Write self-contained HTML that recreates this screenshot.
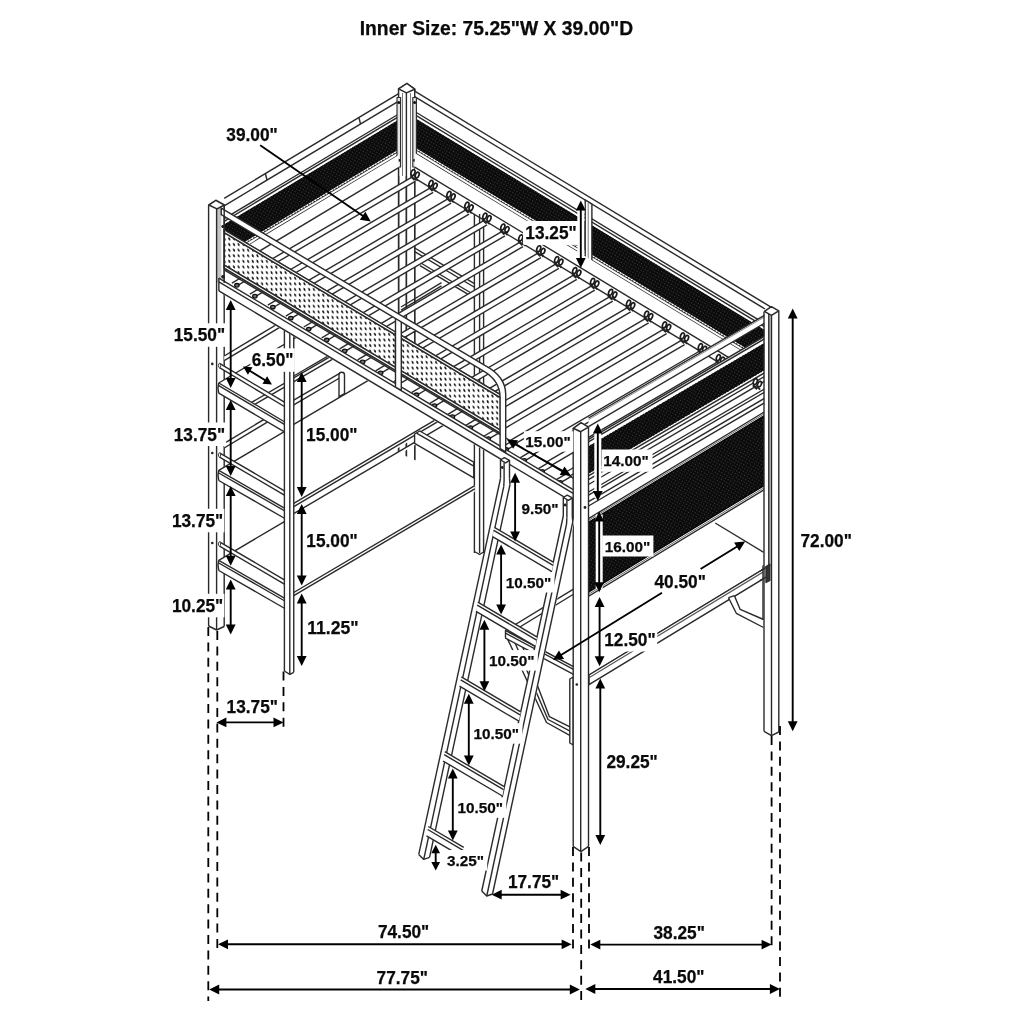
<!DOCTYPE html>
<html lang="en"><head><meta charset="utf-8"><title>Loft bed dimensions</title>
<style>
html,body{margin:0;padding:0;background:#fff;}
body{width:1024px;height:1024px;overflow:hidden;}
svg{display:block;}
svg text{font-family:"Liberation Sans",Arial,Helvetica,sans-serif;font-weight:700;fill:#0a0a0a;stroke:#0a0a0a;stroke-width:0.25px;}
svg{will-change:transform;}
</style></head><body>
<svg width="1024" height="1024" viewBox="0 0 1024 1024">
<defs>
<pattern id="mesh" width="3" height="3" patternUnits="userSpaceOnUse" patternTransform="rotate(30)">
<rect width="3" height="3" fill="#0c0c0c"/><rect width="1" height="1" fill="#3c3c3c"/>
</pattern>
<pattern id="perf" width="9.4" height="5.6" patternUnits="userSpaceOnUse" patternTransform="matrix(1 0.597 0 1 223 231)">
<rect width="9.4" height="5.6" fill="#fff"/>
<ellipse cx="1.6" cy="1.4" rx="1.05" ry="1.3" fill="#111" transform="rotate(-20 1.6 1.4)"/><ellipse cx="6.3" cy="4.2" rx="1.05" ry="1.3" fill="#111" transform="rotate(-20 6.3 4.2)"/>
</pattern>
</defs>
<rect width="1024" height="1024" fill="#fff"/>
<polygon points="398.6,88.9 406.4,92.9 414.7,89.2 414.7,509.3 406.4,513.5 398.6,509" fill="#fff" stroke="none" stroke-width="0" stroke-linejoin="round"/>
<polygon points="398.6,88.9 406.4,92.9 414.7,89.2 406.9,84.2" fill="#fff" stroke="#2a2a2a" stroke-width="1.54" stroke-linejoin="round"/>
<line x1="398.6" y1="88.9" x2="398.6" y2="509" stroke="#2a2a2a" stroke-width="1.4"/>
<line x1="406.4" y1="92.9" x2="406.4" y2="513.5" stroke="#2a2a2a" stroke-width="1.4"/>
<line x1="414.7" y1="89.2" x2="414.7" y2="509.3" stroke="#2a2a2a" stroke-width="1.4"/>
<polyline points="398.6,509 406.4,513.5 414.7,509.3" fill="none" stroke="#2a2a2a" stroke-width="1.4" stroke-linejoin="round"/>
<polygon points="414.7,91.2 771.4,307.36 771.4,369.36 414.7,153.2" fill="#fff" stroke="none" stroke-width="0" stroke-linejoin="round"/>
<polygon points="414.7,117.8 765,330.08 765,359.78 414.7,147.5" fill="url(#mesh)" stroke="none" stroke-width="0" stroke-linejoin="round"/>
<line x1="414.7" y1="91.2" x2="771.4" y2="307.36" stroke="#2a2a2a" stroke-width="1.4"/>
<line x1="414.7" y1="96.7" x2="765" y2="308.98" stroke="#2a2a2a" stroke-width="1.4"/>
<line x1="414.7" y1="111.5" x2="765" y2="323.78" stroke="#2a2a2a" stroke-width="1.4"/>
<line x1="414.7" y1="114.7" x2="765" y2="326.98" stroke="#2a2a2a" stroke-width="1.4"/>
<line x1="414.7" y1="149" x2="765" y2="361.28" stroke="#2a2a2a" stroke-width="1.4"/>
<line x1="414.7" y1="152.95" x2="765" y2="365.23" stroke="#2a2a2a" stroke-width="1.4"/>
<line x1="414.7" y1="116.8" x2="765" y2="329.08" stroke="#fff" stroke-dasharray="1.6 1.6" stroke-width="1.2"/>
<line x1="414.7" y1="148.2" x2="765" y2="360.48" stroke="#fff" stroke-dasharray="1.6 1.6" stroke-width="1.2"/>
<polygon points="224.2,198.28 398.7,93.58 398.7,155.58 224.2,260.28" fill="#fff" stroke="none" stroke-width="0" stroke-linejoin="round"/>
<polygon points="224.2,224.28 398.7,119.58 398.7,149.58 224.2,254.28" fill="url(#mesh)" stroke="none" stroke-width="0" stroke-linejoin="round"/>
<line x1="224.2" y1="198.28" x2="398.7" y2="93.58" stroke="#2a2a2a" stroke-width="1.4"/>
<line x1="224.2" y1="205.78" x2="398.7" y2="101.08" stroke="#2a2a2a" stroke-width="1.4"/>
<line x1="224.2" y1="218.68" x2="398.7" y2="113.98" stroke="#2a2a2a" stroke-width="1.4"/>
<line x1="224.2" y1="221.28" x2="398.7" y2="116.58" stroke="#2a2a2a" stroke-width="1.4"/>
<line x1="224.2" y1="255.78" x2="398.7" y2="151.08" stroke="#2a2a2a" stroke-width="1.4"/>
<line x1="224.2" y1="259.78" x2="398.7" y2="155.08" stroke="#2a2a2a" stroke-width="1.4"/>
<line x1="224.2" y1="223.48" x2="398.7" y2="118.78" stroke="#fff" stroke-dasharray="1.6 1.6" stroke-width="1.2"/>
<line x1="224.2" y1="255.08" x2="398.7" y2="150.38" stroke="#fff" stroke-dasharray="1.6 1.6" stroke-width="1.2"/>
<line x1="265.5" y1="174" x2="267" y2="180" stroke="#2a2a2a" stroke-width="1.4"/>
<line x1="359" y1="117.9" x2="360.5" y2="123.9" stroke="#2a2a2a" stroke-width="1.4"/>
<polygon points="398.6,88.9 406.4,92.9 414.7,89.2 414.7,176 398.6,176" fill="#fff" stroke="none" stroke-width="0" stroke-linejoin="round"/>
<line x1="398.6" y1="88.9" x2="398.6" y2="509" stroke="#2a2a2a" stroke-width="1.4"/>
<line x1="406.4" y1="92.9" x2="406.4" y2="513" stroke="#2a2a2a" stroke-width="1.4"/>
<line x1="414.7" y1="89.2" x2="414.7" y2="509" stroke="#2a2a2a" stroke-width="1.4"/>
<line x1="402.5" y1="93" x2="402.5" y2="176" stroke="#777" stroke-width="0.98"/>
<line x1="410.5" y1="93" x2="410.5" y2="176" stroke="#777" stroke-width="0.98"/>
<polygon points="397,97.5 400.6,97.5 400.6,167 397,167" fill="#e4e4e4" stroke="#2a2a2a" stroke-width="1.12" stroke-linejoin="round"/>
<circle cx="398.8" cy="102.4" r="1.5" fill="#111"/><circle cx="398.8" cy="160.2" r="1.5" fill="#111"/>
<polygon points="412.8,97.5 416.4,97.5 416.4,167 412.8,167" fill="#e4e4e4" stroke="#2a2a2a" stroke-width="1.12" stroke-linejoin="round"/>
<circle cx="414.6" cy="102.4" r="1.5" fill="#111"/><circle cx="414.6" cy="160.2" r="1.5" fill="#111"/>
<polygon points="398.6,88.9 406.4,92.9 414.7,89.2 406.9,83.4" fill="#fff" stroke="#2a2a2a" stroke-width="1.54" stroke-linejoin="round"/>
<polygon points="585.2,200.02 591.9,204.08 591.9,272.58 585.2,268.52" fill="#fff" stroke="#2a2a2a" stroke-width="1.4" stroke-linejoin="round"/>
<line x1="588.2" y1="202.52" x2="588.2" y2="268.52" stroke="#777" stroke-width="0.98"/>
<polygon points="414.7,152.95 765,365.23 765,390.48 414.7,178.2" fill="#fff" stroke="none" stroke-width="0" stroke-linejoin="round"/>
<line x1="414.7" y1="167.2" x2="765" y2="379.48" stroke="#2a2a2a" stroke-width="1.4"/>
<line x1="414.7" y1="178.2" x2="765" y2="390.48" stroke="#2a2a2a" stroke-width="1.4"/>
<polygon points="224.2,259.78 398.7,155.08 398.7,167.58 224.2,272.28" fill="#fff" stroke="none" stroke-width="0" stroke-linejoin="round"/>
<line x1="224.2" y1="272.28" x2="398.7" y2="167.58" stroke="#2a2a2a" stroke-width="1.4"/>
<line x1="474.4" y1="214" x2="474.4" y2="553" stroke="#2a2a2a" stroke-width="1.4"/>
<line x1="479.6" y1="214" x2="479.6" y2="553" stroke="#2a2a2a" stroke-width="1.4"/>
<line x1="483.6" y1="214" x2="483.6" y2="553" stroke="#2a2a2a" stroke-width="1.4"/>
<polyline points="474.4,551.5 479.6,554.5 483.6,552" fill="none" stroke="#2a2a2a" stroke-width="1.4" stroke-linejoin="round"/>
<line x1="414.7" y1="248" x2="474.4" y2="283.64" stroke="#2a2a2a" stroke-width="1.4"/>
<line x1="414.7" y1="251.6" x2="474.4" y2="287.24" stroke="#2a2a2a" stroke-width="1.4"/>
<line x1="420" y1="262.5" x2="474.4" y2="294.98" stroke="#2a2a2a" stroke-width="1.4"/>
<line x1="420" y1="265.7" x2="474.4" y2="298.18" stroke="#2a2a2a" stroke-width="1.4"/>
<line x1="401" y1="307" x2="441.5" y2="282.7" stroke="#2a2a2a" stroke-width="1.4"/>
<line x1="401" y1="310.2" x2="441.5" y2="285.9" stroke="#2a2a2a" stroke-width="1.4"/>
<polygon points="208.75,205 217,208.9 224.2,205 224.2,626.5 216.8,630 208.6,626" fill="#fff" stroke="none" stroke-width="0" stroke-linejoin="round"/>
<polygon points="216.6,209 221.3,207 221.3,281 216.6,283" fill="#c4c4c4" stroke="none" stroke-width="0" stroke-linejoin="round"/>
<line x1="208.6" y1="205" x2="208.6" y2="626" stroke="#2a2a2a" stroke-width="1.4"/>
<line x1="216.6" y1="208.9" x2="216.6" y2="630" stroke="#2a2a2a" stroke-width="1.4"/>
<line x1="224.2" y1="205" x2="224.2" y2="626.5" stroke="#2a2a2a" stroke-width="1.4"/>
<polyline points="208.6,626 216.6,630 224.2,626.5" fill="none" stroke="#2a2a2a" stroke-width="1.4" stroke-linejoin="round"/>
<polygon points="208.75,205 217,208.9 224.4,205 215.8,200.3" fill="#fff" stroke="#2a2a2a" stroke-width="1.54" stroke-linejoin="round"/>
<circle cx="212.3" cy="363.9" r="1.3" fill="#222"/>
<circle cx="212.3" cy="453" r="1.3" fill="#222"/>
<circle cx="212.3" cy="543" r="1.3" fill="#222"/>
<circle cx="222.8" cy="226.5" r="1.4" fill="#222"/><circle cx="222.8" cy="276.5" r="1.6" fill="#222"/>
<clipPath id="underbed"><polygon points="200,279.62 600,518.42 600,700 200,700"/></clipPath>
<g clip-path="url(#underbed)">
<polygon points="218.75,560.3 284.4,598.05 293.75,592.5 474.75,485.71 399.75,453.51" fill="#fff" stroke="none" stroke-width="0" stroke-linejoin="round"/>
<line x1="218.75" y1="560.3" x2="284.35" y2="521.6" stroke="#2a2a2a" stroke-width="1.4"/>
<polygon points="293.75,592.5 474.75,485.71 474.75,488.71 293.75,595.5" fill="#fff" stroke="none" stroke-width="0" stroke-linejoin="round"/>
<polygon points="293.75,595.6 474.75,488.81 474.75,491.81 293.75,598.6" fill="#fff" stroke="none" stroke-width="0" stroke-linejoin="round"/>
<line x1="293.75" y1="592.5" x2="474.75" y2="485.71" stroke="#2a2a2a" stroke-width="1.4"/>
<line x1="293.75" y1="595.6" x2="474.75" y2="488.81" stroke="#2a2a2a" stroke-width="1.4"/>
<polygon points="219.5,541.8 284.4,579.8 284.4,584.1 219.5,546.1" fill="#fff" stroke="none" stroke-width="0" stroke-linejoin="round"/>
<line x1="219.5" y1="541.8" x2="284.4" y2="579.8" stroke="#2a2a2a" stroke-width="1.4"/>
<line x1="219.5" y1="546.1" x2="284.4" y2="584.1" stroke="#2a2a2a" stroke-width="1.4"/>
<ellipse cx="219.5" cy="543.95" rx="1.1" ry="2.15" fill="#fff" stroke="#2a2a2a" stroke-width="0.9"/>
<polygon points="218.75,560.3 284.4,598.05 284.4,608.25 218.75,570.5" fill="#fff" stroke="none" stroke-width="0" stroke-linejoin="round"/>
<line x1="218.75" y1="560.3" x2="284.4" y2="598.05" stroke="#2a2a2a" stroke-width="1.4"/>
<line x1="218.75" y1="563" x2="284.4" y2="600.75" stroke="#2a2a2a" stroke-width="1.4"/>
<line x1="218.75" y1="570.5" x2="284.4" y2="608.25" stroke="#2a2a2a" stroke-width="1.4"/>
<path d="M218.75,560.3 Q217.15,565.4 218.75,570.5" fill="#fff" stroke="#2a2a2a" stroke-width="1.4"/>
<polygon points="224.2,443.3 284.2,407.3 284.2,412 224.2,448" fill="#fff" stroke="none" stroke-width="0" stroke-linejoin="round"/>
<line x1="224.2" y1="443.3" x2="284.2" y2="407.3" stroke="#2a2a2a" stroke-width="1.4"/>
<line x1="224.2" y1="448" x2="284.2" y2="412" stroke="#2a2a2a" stroke-width="1.4"/>
<polygon points="218.75,470.3 284.4,508.05 293.75,503.4 474.75,396.61 399.75,363.51" fill="#fff" stroke="none" stroke-width="0" stroke-linejoin="round"/>
<line x1="218.75" y1="470.3" x2="284.35" y2="431.6" stroke="#2a2a2a" stroke-width="1.4"/>
<polygon points="293.75,503.4 474.75,396.61 474.75,399.61 293.75,506.4" fill="#fff" stroke="none" stroke-width="0" stroke-linejoin="round"/>
<polygon points="293.75,506.6 474.75,399.81 474.75,402.81 293.75,509.6" fill="#fff" stroke="none" stroke-width="0" stroke-linejoin="round"/>
<polygon points="293.75,513.6 474.75,406.81 474.75,409.81 293.75,516.6" fill="#fff" stroke="none" stroke-width="0" stroke-linejoin="round"/>
<line x1="293.75" y1="503.4" x2="474.75" y2="396.61" stroke="#2a2a2a" stroke-width="1.4"/>
<line x1="293.75" y1="506.6" x2="474.75" y2="399.81" stroke="#2a2a2a" stroke-width="1.4"/>
<line x1="293.75" y1="513.6" x2="474.75" y2="406.81" stroke="#2a2a2a" stroke-width="1.4"/>
<polygon points="219.5,452.8 284.4,490.8 284.4,495.1 219.5,457.1" fill="#fff" stroke="none" stroke-width="0" stroke-linejoin="round"/>
<line x1="219.5" y1="452.8" x2="284.4" y2="490.8" stroke="#2a2a2a" stroke-width="1.4"/>
<line x1="219.5" y1="457.1" x2="284.4" y2="495.1" stroke="#2a2a2a" stroke-width="1.4"/>
<ellipse cx="219.5" cy="454.95" rx="1.1" ry="2.15" fill="#fff" stroke="#2a2a2a" stroke-width="0.9"/>
<polygon points="218.75,470.3 284.4,508.05 284.4,518.25 218.75,480.5" fill="#fff" stroke="none" stroke-width="0" stroke-linejoin="round"/>
<line x1="218.75" y1="470.3" x2="284.4" y2="508.05" stroke="#2a2a2a" stroke-width="1.4"/>
<line x1="218.75" y1="473" x2="284.4" y2="510.75" stroke="#2a2a2a" stroke-width="1.4"/>
<line x1="218.75" y1="480.5" x2="284.4" y2="518.25" stroke="#2a2a2a" stroke-width="1.4"/>
<path d="M218.75,470.3 Q217.15,475.4 218.75,480.5" fill="#fff" stroke="#2a2a2a" stroke-width="1.4"/>
<polygon points="224.2,356 284.2,320 284.2,324.7 224.2,360.7" fill="#fff" stroke="none" stroke-width="0" stroke-linejoin="round"/>
<line x1="224.2" y1="356" x2="284.2" y2="320" stroke="#2a2a2a" stroke-width="1.4"/>
<line x1="224.2" y1="360.7" x2="284.2" y2="324.7" stroke="#2a2a2a" stroke-width="1.4"/>
<polygon points="218.75,383 284.4,421.73 293.75,424.4 474.75,317.61 399.75,276.21" fill="#fff" stroke="none" stroke-width="0" stroke-linejoin="round"/>
<line x1="218.75" y1="383" x2="399.75" y2="276.21" stroke="#2a2a2a" stroke-width="1.4"/>
<polygon points="293.75,424.4 474.75,317.61 474.75,320.61 293.75,427.4" fill="#fff" stroke="none" stroke-width="0" stroke-linejoin="round"/>
<line x1="293.75" y1="424.4" x2="474.75" y2="317.61" stroke="#2a2a2a" stroke-width="1.4"/>
<line x1="251.6" y1="402.38" x2="331.6" y2="355.98" stroke="#2a2a2a" stroke-width="1.4"/>
<line x1="254.8" y1="404.27" x2="334.8" y2="357.87" stroke="#2a2a2a" stroke-width="1.4"/>
<line x1="293.75" y1="376" x2="330" y2="354.98" stroke="#2a2a2a" stroke-width="1.4"/>
<polygon points="293.75,400.2 340,373.14 340,377.74 293.75,404.8" fill="#fff" stroke="none" stroke-width="0" stroke-linejoin="round"/>
<line x1="293.75" y1="400.2" x2="340" y2="373.14" stroke="#2a2a2a" stroke-width="1.4"/>
<line x1="293.75" y1="404.8" x2="340" y2="377.74" stroke="#2a2a2a" stroke-width="1.4"/>
<path d="M339,396.5 V375 Q339,372.3 341.7,372.3 Q344.5,372.3 344.5,375 V393.5 Z" fill="#fff" stroke="#2a2a2a" stroke-width="1.4"/>
<polygon points="219.5,363.4 284.4,402.2 284.4,406.5 219.5,367.7" fill="#fff" stroke="none" stroke-width="0" stroke-linejoin="round"/>
<line x1="219.5" y1="363.4" x2="284.4" y2="402.2" stroke="#2a2a2a" stroke-width="1.4"/>
<line x1="219.5" y1="367.7" x2="284.4" y2="406.5" stroke="#2a2a2a" stroke-width="1.4"/>
<ellipse cx="219.5" cy="365.55" rx="1.1" ry="2.15" fill="#fff" stroke="#2a2a2a" stroke-width="0.9"/>
<polygon points="218.75,383 284.4,421.73 284.4,431.93 218.75,393.2" fill="#fff" stroke="none" stroke-width="0" stroke-linejoin="round"/>
<line x1="218.75" y1="383" x2="284.4" y2="421.73" stroke="#2a2a2a" stroke-width="1.4"/>
<line x1="218.75" y1="385.7" x2="284.4" y2="424.43" stroke="#2a2a2a" stroke-width="1.4"/>
<line x1="218.75" y1="393.2" x2="284.4" y2="431.93" stroke="#2a2a2a" stroke-width="1.4"/>
<path d="M218.75,383 Q217.15,388.1 218.75,393.2" fill="#fff" stroke="#2a2a2a" stroke-width="1.4"/>
</g>
<polygon points="284.4,330 293.75,336 293.75,672.3 289.8,674.3 284.4,671" fill="#fff" stroke="none" stroke-width="0" stroke-linejoin="round"/>
<line x1="284.4" y1="330" x2="284.4" y2="671" stroke="#2a2a2a" stroke-width="1.4"/>
<line x1="289.8" y1="333" x2="289.8" y2="674.3" stroke="#2a2a2a" stroke-width="1.4"/>
<line x1="293.75" y1="336" x2="293.75" y2="672.3" stroke="#2a2a2a" stroke-width="1.4"/>
<polyline points="284.4,671 289.8,674.3 293.75,672.3" fill="none" stroke="#2a2a2a" stroke-width="1.4" stroke-linejoin="round"/>
<polygon points="419.8,431 473.75,462.1 473.75,477.9 414.6,443.4 414.6,434" fill="#fff" stroke="#2a2a2a" stroke-width="1.4" stroke-linejoin="round"/>
<line x1="416.5" y1="433.2" x2="473.75" y2="466.2" stroke="#2a2a2a" stroke-width="1.4"/>
<polygon points="413.2,176.4 241,277.14 243,282.14 415.2,181.4" fill="#fff" stroke="none" stroke-width="0" stroke-linejoin="round"/>
<line x1="413.2" y1="176.4" x2="241" y2="277.14" stroke="#2a2a2a" stroke-width="1.4"/>
<line x1="415.2" y1="181.4" x2="243" y2="282.14" stroke="#2a2a2a" stroke-width="1.4"/>
<polygon points="431.16,187.28 258.96,288.02 260.96,293.02 433.16,192.28" fill="#fff" stroke="none" stroke-width="0" stroke-linejoin="round"/>
<line x1="431.16" y1="187.28" x2="258.96" y2="288.02" stroke="#2a2a2a" stroke-width="1.4"/>
<line x1="433.16" y1="192.28" x2="260.96" y2="293.02" stroke="#2a2a2a" stroke-width="1.4"/>
<polygon points="449.12,198.16 276.92,298.9 278.92,303.9 451.12,203.16" fill="#fff" stroke="none" stroke-width="0" stroke-linejoin="round"/>
<line x1="449.12" y1="198.16" x2="276.92" y2="298.9" stroke="#2a2a2a" stroke-width="1.4"/>
<line x1="451.12" y1="203.16" x2="278.92" y2="303.9" stroke="#2a2a2a" stroke-width="1.4"/>
<polygon points="467.08,209.04 294.88,309.78 296.88,314.78 469.08,214.04" fill="#fff" stroke="none" stroke-width="0" stroke-linejoin="round"/>
<line x1="467.08" y1="209.04" x2="294.88" y2="309.78" stroke="#2a2a2a" stroke-width="1.4"/>
<line x1="469.08" y1="214.04" x2="296.88" y2="314.78" stroke="#2a2a2a" stroke-width="1.4"/>
<polygon points="485.04,219.92 312.84,320.66 314.84,325.66 487.04,224.92" fill="#fff" stroke="none" stroke-width="0" stroke-linejoin="round"/>
<line x1="485.04" y1="219.92" x2="312.84" y2="320.66" stroke="#2a2a2a" stroke-width="1.4"/>
<line x1="487.04" y1="224.92" x2="314.84" y2="325.66" stroke="#2a2a2a" stroke-width="1.4"/>
<polygon points="503,230.8 330.8,331.54 332.8,336.54 505,235.8" fill="#fff" stroke="none" stroke-width="0" stroke-linejoin="round"/>
<line x1="503" y1="230.8" x2="330.8" y2="331.54" stroke="#2a2a2a" stroke-width="1.4"/>
<line x1="505" y1="235.8" x2="332.8" y2="336.54" stroke="#2a2a2a" stroke-width="1.4"/>
<polygon points="520.96,241.68 348.76,342.42 350.76,347.42 522.96,246.68" fill="#fff" stroke="none" stroke-width="0" stroke-linejoin="round"/>
<line x1="520.96" y1="241.68" x2="348.76" y2="342.42" stroke="#2a2a2a" stroke-width="1.4"/>
<line x1="522.96" y1="246.68" x2="350.76" y2="347.42" stroke="#2a2a2a" stroke-width="1.4"/>
<polygon points="538.92,252.56 366.72,353.3 368.72,358.3 540.92,257.56" fill="#fff" stroke="none" stroke-width="0" stroke-linejoin="round"/>
<line x1="538.92" y1="252.56" x2="366.72" y2="353.3" stroke="#2a2a2a" stroke-width="1.4"/>
<line x1="540.92" y1="257.56" x2="368.72" y2="358.3" stroke="#2a2a2a" stroke-width="1.4"/>
<polygon points="556.88,263.44 384.68,364.18 386.68,369.18 558.88,268.44" fill="#fff" stroke="none" stroke-width="0" stroke-linejoin="round"/>
<line x1="556.88" y1="263.44" x2="384.68" y2="364.18" stroke="#2a2a2a" stroke-width="1.4"/>
<line x1="558.88" y1="268.44" x2="386.68" y2="369.18" stroke="#2a2a2a" stroke-width="1.4"/>
<polygon points="574.84,274.32 402.64,375.06 404.64,380.06 576.84,279.32" fill="#fff" stroke="none" stroke-width="0" stroke-linejoin="round"/>
<line x1="574.84" y1="274.32" x2="402.64" y2="375.06" stroke="#2a2a2a" stroke-width="1.4"/>
<line x1="576.84" y1="279.32" x2="404.64" y2="380.06" stroke="#2a2a2a" stroke-width="1.4"/>
<polygon points="592.8,285.2 420.6,385.94 422.6,390.94 594.8,290.2" fill="#fff" stroke="none" stroke-width="0" stroke-linejoin="round"/>
<line x1="592.8" y1="285.2" x2="420.6" y2="385.94" stroke="#2a2a2a" stroke-width="1.4"/>
<line x1="594.8" y1="290.2" x2="422.6" y2="390.94" stroke="#2a2a2a" stroke-width="1.4"/>
<polygon points="610.76,296.08 438.56,396.82 440.56,401.82 612.76,301.08" fill="#fff" stroke="none" stroke-width="0" stroke-linejoin="round"/>
<line x1="610.76" y1="296.08" x2="438.56" y2="396.82" stroke="#2a2a2a" stroke-width="1.4"/>
<line x1="612.76" y1="301.08" x2="440.56" y2="401.82" stroke="#2a2a2a" stroke-width="1.4"/>
<polygon points="628.72,306.96 456.52,407.7 458.52,412.7 630.72,311.96" fill="#fff" stroke="none" stroke-width="0" stroke-linejoin="round"/>
<line x1="628.72" y1="306.96" x2="456.52" y2="407.7" stroke="#2a2a2a" stroke-width="1.4"/>
<line x1="630.72" y1="311.96" x2="458.52" y2="412.7" stroke="#2a2a2a" stroke-width="1.4"/>
<polygon points="646.68,317.84 474.48,418.58 476.48,423.58 648.68,322.84" fill="#fff" stroke="none" stroke-width="0" stroke-linejoin="round"/>
<line x1="646.68" y1="317.84" x2="474.48" y2="418.58" stroke="#2a2a2a" stroke-width="1.4"/>
<line x1="648.68" y1="322.84" x2="476.48" y2="423.58" stroke="#2a2a2a" stroke-width="1.4"/>
<polygon points="664.64,328.72 492.44,429.46 494.44,434.46 666.64,333.72" fill="#fff" stroke="none" stroke-width="0" stroke-linejoin="round"/>
<line x1="664.64" y1="328.72" x2="492.44" y2="429.46" stroke="#2a2a2a" stroke-width="1.4"/>
<line x1="666.64" y1="333.72" x2="494.44" y2="434.46" stroke="#2a2a2a" stroke-width="1.4"/>
<polygon points="682.6,339.6 510.4,440.34 512.4,445.34 684.6,344.6" fill="#fff" stroke="none" stroke-width="0" stroke-linejoin="round"/>
<line x1="682.6" y1="339.6" x2="510.4" y2="440.34" stroke="#2a2a2a" stroke-width="1.4"/>
<line x1="684.6" y1="344.6" x2="512.4" y2="445.34" stroke="#2a2a2a" stroke-width="1.4"/>
<polygon points="700.56,350.48 528.36,451.22 530.36,456.22 702.56,355.48" fill="#fff" stroke="none" stroke-width="0" stroke-linejoin="round"/>
<line x1="700.56" y1="350.48" x2="528.36" y2="451.22" stroke="#2a2a2a" stroke-width="1.4"/>
<line x1="702.56" y1="355.48" x2="530.36" y2="456.22" stroke="#2a2a2a" stroke-width="1.4"/>
<polygon points="718.52,361.36 546.32,462.1 548.32,467.1 720.52,366.36" fill="#fff" stroke="none" stroke-width="0" stroke-linejoin="round"/>
<line x1="718.52" y1="361.36" x2="546.32" y2="462.1" stroke="#2a2a2a" stroke-width="1.4"/>
<line x1="720.52" y1="366.36" x2="548.32" y2="467.1" stroke="#2a2a2a" stroke-width="1.4"/>
<polygon points="736.48,372.24 564.28,472.98 566.28,477.98 738.48,377.24" fill="#fff" stroke="none" stroke-width="0" stroke-linejoin="round"/>
<line x1="736.48" y1="372.24" x2="564.28" y2="472.98" stroke="#2a2a2a" stroke-width="1.4"/>
<line x1="738.48" y1="377.24" x2="566.28" y2="477.98" stroke="#2a2a2a" stroke-width="1.4"/>
<polygon points="754.44,383.12 582.24,483.86 584.24,488.86 756.44,388.12" fill="#fff" stroke="none" stroke-width="0" stroke-linejoin="round"/>
<line x1="754.44" y1="383.12" x2="582.24" y2="483.86" stroke="#2a2a2a" stroke-width="1.4"/>
<line x1="756.44" y1="388.12" x2="584.24" y2="488.86" stroke="#2a2a2a" stroke-width="1.4"/>
<g fill="#fff" stroke="#1a1a1a" stroke-width="1.7"><ellipse cx="413" cy="172.6" rx="1.8" ry="3.1" transform="rotate(22 413 172.6)"/><ellipse cx="417.2" cy="175" rx="1.8" ry="2.9" transform="rotate(22 417.2 175)"/></g>
<line x1="410.6" y1="176" x2="414.8" y2="180" stroke="#222" stroke-width="2.2"/>
<line x1="415" y1="177.8" x2="417.8" y2="180.6" stroke="#222" stroke-width="1.8"/>
<g fill="#fff" stroke="#1a1a1a" stroke-width="1.7"><ellipse cx="430.96" cy="183.48" rx="1.8" ry="3.1" transform="rotate(22 430.96 183.48)"/><ellipse cx="435.16" cy="185.88" rx="1.8" ry="2.9" transform="rotate(22 435.16 185.88)"/></g>
<line x1="428.56" y1="186.88" x2="432.76" y2="190.88" stroke="#222" stroke-width="2.2"/>
<line x1="432.96" y1="188.68" x2="435.76" y2="191.48" stroke="#222" stroke-width="1.8"/>
<g fill="#fff" stroke="#1a1a1a" stroke-width="1.7"><ellipse cx="448.92" cy="194.36" rx="1.8" ry="3.1" transform="rotate(22 448.92 194.36)"/><ellipse cx="453.12" cy="196.76" rx="1.8" ry="2.9" transform="rotate(22 453.12 196.76)"/></g>
<line x1="446.52" y1="197.76" x2="450.72" y2="201.76" stroke="#222" stroke-width="2.2"/>
<line x1="450.92" y1="199.56" x2="453.72" y2="202.36" stroke="#222" stroke-width="1.8"/>
<g fill="#fff" stroke="#1a1a1a" stroke-width="1.7"><ellipse cx="466.88" cy="205.24" rx="1.8" ry="3.1" transform="rotate(22 466.88 205.24)"/><ellipse cx="471.08" cy="207.64" rx="1.8" ry="2.9" transform="rotate(22 471.08 207.64)"/></g>
<line x1="464.48" y1="208.64" x2="468.68" y2="212.64" stroke="#222" stroke-width="2.2"/>
<line x1="468.88" y1="210.44" x2="471.68" y2="213.24" stroke="#222" stroke-width="1.8"/>
<g fill="#fff" stroke="#1a1a1a" stroke-width="1.7"><ellipse cx="484.84" cy="216.12" rx="1.8" ry="3.1" transform="rotate(22 484.84 216.12)"/><ellipse cx="489.04" cy="218.52" rx="1.8" ry="2.9" transform="rotate(22 489.04 218.52)"/></g>
<line x1="482.44" y1="219.52" x2="486.64" y2="223.52" stroke="#222" stroke-width="2.2"/>
<line x1="486.84" y1="221.32" x2="489.64" y2="224.12" stroke="#222" stroke-width="1.8"/>
<g fill="#fff" stroke="#1a1a1a" stroke-width="1.7"><ellipse cx="502.8" cy="227" rx="1.8" ry="3.1" transform="rotate(22 502.8 227)"/><ellipse cx="507" cy="229.4" rx="1.8" ry="2.9" transform="rotate(22 507 229.4)"/></g>
<line x1="500.4" y1="230.4" x2="504.6" y2="234.4" stroke="#222" stroke-width="2.2"/>
<line x1="504.8" y1="232.2" x2="507.6" y2="235" stroke="#222" stroke-width="1.8"/>
<g fill="#fff" stroke="#1a1a1a" stroke-width="1.7"><ellipse cx="520.76" cy="237.88" rx="1.8" ry="3.1" transform="rotate(22 520.76 237.88)"/><ellipse cx="524.96" cy="240.28" rx="1.8" ry="2.9" transform="rotate(22 524.96 240.28)"/></g>
<line x1="518.36" y1="241.28" x2="522.56" y2="245.28" stroke="#222" stroke-width="2.2"/>
<line x1="522.76" y1="243.08" x2="525.56" y2="245.88" stroke="#222" stroke-width="1.8"/>
<g fill="#fff" stroke="#1a1a1a" stroke-width="1.7"><ellipse cx="538.72" cy="248.76" rx="1.8" ry="3.1" transform="rotate(22 538.72 248.76)"/><ellipse cx="542.92" cy="251.16" rx="1.8" ry="2.9" transform="rotate(22 542.92 251.16)"/></g>
<line x1="536.32" y1="252.16" x2="540.52" y2="256.16" stroke="#222" stroke-width="2.2"/>
<line x1="540.72" y1="253.96" x2="543.52" y2="256.76" stroke="#222" stroke-width="1.8"/>
<g fill="#fff" stroke="#1a1a1a" stroke-width="1.7"><ellipse cx="556.68" cy="259.64" rx="1.8" ry="3.1" transform="rotate(22 556.68 259.64)"/><ellipse cx="560.88" cy="262.04" rx="1.8" ry="2.9" transform="rotate(22 560.88 262.04)"/></g>
<line x1="554.28" y1="263.04" x2="558.48" y2="267.04" stroke="#222" stroke-width="2.2"/>
<line x1="558.68" y1="264.84" x2="561.48" y2="267.64" stroke="#222" stroke-width="1.8"/>
<g fill="#fff" stroke="#1a1a1a" stroke-width="1.7"><ellipse cx="574.64" cy="270.52" rx="1.8" ry="3.1" transform="rotate(22 574.64 270.52)"/><ellipse cx="578.84" cy="272.92" rx="1.8" ry="2.9" transform="rotate(22 578.84 272.92)"/></g>
<line x1="572.24" y1="273.92" x2="576.44" y2="277.92" stroke="#222" stroke-width="2.2"/>
<line x1="576.64" y1="275.72" x2="579.44" y2="278.52" stroke="#222" stroke-width="1.8"/>
<g fill="#fff" stroke="#1a1a1a" stroke-width="1.7"><ellipse cx="592.6" cy="281.4" rx="1.8" ry="3.1" transform="rotate(22 592.6 281.4)"/><ellipse cx="596.8" cy="283.8" rx="1.8" ry="2.9" transform="rotate(22 596.8 283.8)"/></g>
<line x1="590.2" y1="284.8" x2="594.4" y2="288.8" stroke="#222" stroke-width="2.2"/>
<line x1="594.6" y1="286.6" x2="597.4" y2="289.4" stroke="#222" stroke-width="1.8"/>
<g fill="#fff" stroke="#1a1a1a" stroke-width="1.7"><ellipse cx="610.56" cy="292.28" rx="1.8" ry="3.1" transform="rotate(22 610.56 292.28)"/><ellipse cx="614.76" cy="294.68" rx="1.8" ry="2.9" transform="rotate(22 614.76 294.68)"/></g>
<line x1="608.16" y1="295.68" x2="612.36" y2="299.68" stroke="#222" stroke-width="2.2"/>
<line x1="612.56" y1="297.48" x2="615.36" y2="300.28" stroke="#222" stroke-width="1.8"/>
<g fill="#fff" stroke="#1a1a1a" stroke-width="1.7"><ellipse cx="628.52" cy="303.16" rx="1.8" ry="3.1" transform="rotate(22 628.52 303.16)"/><ellipse cx="632.72" cy="305.56" rx="1.8" ry="2.9" transform="rotate(22 632.72 305.56)"/></g>
<line x1="626.12" y1="306.56" x2="630.32" y2="310.56" stroke="#222" stroke-width="2.2"/>
<line x1="630.52" y1="308.36" x2="633.32" y2="311.16" stroke="#222" stroke-width="1.8"/>
<g fill="#fff" stroke="#1a1a1a" stroke-width="1.7"><ellipse cx="646.48" cy="314.04" rx="1.8" ry="3.1" transform="rotate(22 646.48 314.04)"/><ellipse cx="650.68" cy="316.44" rx="1.8" ry="2.9" transform="rotate(22 650.68 316.44)"/></g>
<line x1="644.08" y1="317.44" x2="648.28" y2="321.44" stroke="#222" stroke-width="2.2"/>
<line x1="648.48" y1="319.24" x2="651.28" y2="322.04" stroke="#222" stroke-width="1.8"/>
<g fill="#fff" stroke="#1a1a1a" stroke-width="1.7"><ellipse cx="664.44" cy="324.92" rx="1.8" ry="3.1" transform="rotate(22 664.44 324.92)"/><ellipse cx="668.64" cy="327.32" rx="1.8" ry="2.9" transform="rotate(22 668.64 327.32)"/></g>
<line x1="662.04" y1="328.32" x2="666.24" y2="332.32" stroke="#222" stroke-width="2.2"/>
<line x1="666.44" y1="330.12" x2="669.24" y2="332.92" stroke="#222" stroke-width="1.8"/>
<g fill="#fff" stroke="#1a1a1a" stroke-width="1.7"><ellipse cx="682.4" cy="335.8" rx="1.8" ry="3.1" transform="rotate(22 682.4 335.8)"/><ellipse cx="686.6" cy="338.2" rx="1.8" ry="2.9" transform="rotate(22 686.6 338.2)"/></g>
<line x1="680" y1="339.2" x2="684.2" y2="343.2" stroke="#222" stroke-width="2.2"/>
<line x1="684.4" y1="341" x2="687.2" y2="343.8" stroke="#222" stroke-width="1.8"/>
<g fill="#fff" stroke="#1a1a1a" stroke-width="1.7"><ellipse cx="700.36" cy="346.68" rx="1.8" ry="3.1" transform="rotate(22 700.36 346.68)"/><ellipse cx="704.56" cy="349.08" rx="1.8" ry="2.9" transform="rotate(22 704.56 349.08)"/></g>
<line x1="697.96" y1="350.08" x2="702.16" y2="354.08" stroke="#222" stroke-width="2.2"/>
<line x1="702.36" y1="351.88" x2="705.16" y2="354.68" stroke="#222" stroke-width="1.8"/>
<g fill="#fff" stroke="#1a1a1a" stroke-width="1.7"><ellipse cx="718.32" cy="357.56" rx="1.8" ry="3.1" transform="rotate(22 718.32 357.56)"/><ellipse cx="722.52" cy="359.96" rx="1.8" ry="2.9" transform="rotate(22 722.52 359.96)"/></g>
<line x1="715.92" y1="360.96" x2="720.12" y2="364.96" stroke="#222" stroke-width="2.2"/>
<line x1="720.32" y1="362.76" x2="723.12" y2="365.56" stroke="#222" stroke-width="1.8"/>
<g fill="#fff" stroke="#1a1a1a" stroke-width="1.7"><ellipse cx="736.28" cy="368.44" rx="1.8" ry="3.1" transform="rotate(22 736.28 368.44)"/><ellipse cx="740.48" cy="370.84" rx="1.8" ry="2.9" transform="rotate(22 740.48 370.84)"/></g>
<line x1="733.88" y1="371.84" x2="738.08" y2="375.84" stroke="#222" stroke-width="2.2"/>
<line x1="738.28" y1="373.64" x2="741.08" y2="376.44" stroke="#222" stroke-width="1.8"/>
<g fill="#fff" stroke="#1a1a1a" stroke-width="1.7"><ellipse cx="754.24" cy="379.32" rx="1.8" ry="3.1" transform="rotate(22 754.24 379.32)"/><ellipse cx="758.44" cy="381.72" rx="1.8" ry="2.9" transform="rotate(22 758.44 381.72)"/></g>
<line x1="751.84" y1="382.72" x2="756.04" y2="386.72" stroke="#222" stroke-width="2.2"/>
<line x1="756.24" y1="384.52" x2="759.04" y2="387.32" stroke="#222" stroke-width="1.8"/>
<polygon points="224.2,269.84 573.2,478.2 573.2,503.42 224.2,295.06" fill="#fff" stroke="none" stroke-width="0" stroke-linejoin="round"/>
<line x1="224.2" y1="269.84" x2="573.2" y2="478.2" stroke="#2a2a2a" stroke-width="1.4"/>
<line x1="243.9" y1="276" x2="231.9" y2="283.2" stroke="#2a2a2a" stroke-width="1.4"/>
<line x1="248.4" y1="279" x2="237.4" y2="285.6" stroke="#2a2a2a" stroke-width="1.4"/>
<ellipse cx="236.9" cy="285.3" rx="2.2" ry="1.8" fill="#777" stroke="#111" stroke-width="1.3"/>
<line x1="261.86" y1="286.95" x2="249.86" y2="294.15" stroke="#2a2a2a" stroke-width="1.4"/>
<line x1="266.36" y1="289.95" x2="255.36" y2="296.55" stroke="#2a2a2a" stroke-width="1.4"/>
<ellipse cx="254.86" cy="296.25" rx="2.2" ry="1.8" fill="#777" stroke="#111" stroke-width="1.3"/>
<line x1="279.82" y1="297.9" x2="267.82" y2="305.1" stroke="#2a2a2a" stroke-width="1.4"/>
<line x1="284.32" y1="300.9" x2="273.32" y2="307.5" stroke="#2a2a2a" stroke-width="1.4"/>
<ellipse cx="272.82" cy="307.2" rx="2.2" ry="1.8" fill="#777" stroke="#111" stroke-width="1.3"/>
<line x1="297.78" y1="308.85" x2="285.78" y2="316.05" stroke="#2a2a2a" stroke-width="1.4"/>
<line x1="302.28" y1="311.85" x2="291.28" y2="318.45" stroke="#2a2a2a" stroke-width="1.4"/>
<ellipse cx="290.78" cy="318.15" rx="2.2" ry="1.8" fill="#777" stroke="#111" stroke-width="1.3"/>
<line x1="315.74" y1="319.8" x2="303.74" y2="327" stroke="#2a2a2a" stroke-width="1.4"/>
<line x1="320.24" y1="322.8" x2="309.24" y2="329.4" stroke="#2a2a2a" stroke-width="1.4"/>
<ellipse cx="308.74" cy="329.1" rx="2.2" ry="1.8" fill="#777" stroke="#111" stroke-width="1.3"/>
<line x1="333.7" y1="330.75" x2="321.7" y2="337.95" stroke="#2a2a2a" stroke-width="1.4"/>
<line x1="338.2" y1="333.75" x2="327.2" y2="340.35" stroke="#2a2a2a" stroke-width="1.4"/>
<ellipse cx="326.7" cy="340.05" rx="2.2" ry="1.8" fill="#777" stroke="#111" stroke-width="1.3"/>
<line x1="351.66" y1="341.7" x2="339.66" y2="348.9" stroke="#2a2a2a" stroke-width="1.4"/>
<line x1="356.16" y1="344.7" x2="345.16" y2="351.3" stroke="#2a2a2a" stroke-width="1.4"/>
<ellipse cx="344.66" cy="351" rx="2.2" ry="1.8" fill="#777" stroke="#111" stroke-width="1.3"/>
<line x1="369.62" y1="352.65" x2="357.62" y2="359.85" stroke="#2a2a2a" stroke-width="1.4"/>
<line x1="374.12" y1="355.65" x2="363.12" y2="362.25" stroke="#2a2a2a" stroke-width="1.4"/>
<ellipse cx="362.62" cy="361.95" rx="2.2" ry="1.8" fill="#777" stroke="#111" stroke-width="1.3"/>
<line x1="387.58" y1="363.6" x2="375.58" y2="370.8" stroke="#2a2a2a" stroke-width="1.4"/>
<line x1="392.08" y1="366.6" x2="381.08" y2="373.2" stroke="#2a2a2a" stroke-width="1.4"/>
<ellipse cx="380.58" cy="372.9" rx="2.2" ry="1.8" fill="#777" stroke="#111" stroke-width="1.3"/>
<line x1="405.54" y1="374.55" x2="393.54" y2="381.75" stroke="#2a2a2a" stroke-width="1.4"/>
<line x1="410.04" y1="377.55" x2="399.04" y2="384.15" stroke="#2a2a2a" stroke-width="1.4"/>
<ellipse cx="398.54" cy="383.85" rx="2.2" ry="1.8" fill="#777" stroke="#111" stroke-width="1.3"/>
<line x1="423.5" y1="385.5" x2="411.5" y2="392.7" stroke="#2a2a2a" stroke-width="1.4"/>
<line x1="428" y1="388.5" x2="417" y2="395.1" stroke="#2a2a2a" stroke-width="1.4"/>
<ellipse cx="416.5" cy="394.8" rx="2.2" ry="1.8" fill="#777" stroke="#111" stroke-width="1.3"/>
<line x1="441.46" y1="396.45" x2="429.46" y2="403.65" stroke="#2a2a2a" stroke-width="1.4"/>
<line x1="445.96" y1="399.45" x2="434.96" y2="406.05" stroke="#2a2a2a" stroke-width="1.4"/>
<ellipse cx="434.46" cy="405.75" rx="2.2" ry="1.8" fill="#777" stroke="#111" stroke-width="1.3"/>
<line x1="459.42" y1="407.4" x2="447.42" y2="414.6" stroke="#2a2a2a" stroke-width="1.4"/>
<line x1="463.92" y1="410.4" x2="452.92" y2="417" stroke="#2a2a2a" stroke-width="1.4"/>
<ellipse cx="452.42" cy="416.7" rx="2.2" ry="1.8" fill="#777" stroke="#111" stroke-width="1.3"/>
<line x1="477.38" y1="418.35" x2="465.38" y2="425.55" stroke="#2a2a2a" stroke-width="1.4"/>
<line x1="481.88" y1="421.35" x2="470.88" y2="427.95" stroke="#2a2a2a" stroke-width="1.4"/>
<ellipse cx="470.38" cy="427.65" rx="2.2" ry="1.8" fill="#777" stroke="#111" stroke-width="1.3"/>
<line x1="495.34" y1="429.3" x2="483.34" y2="436.5" stroke="#2a2a2a" stroke-width="1.4"/>
<line x1="499.84" y1="432.3" x2="488.84" y2="438.9" stroke="#2a2a2a" stroke-width="1.4"/>
<ellipse cx="488.34" cy="438.6" rx="2.2" ry="1.8" fill="#777" stroke="#111" stroke-width="1.3"/>
<line x1="513.3" y1="440.25" x2="501.3" y2="447.45" stroke="#2a2a2a" stroke-width="1.4"/>
<line x1="517.8" y1="443.25" x2="506.8" y2="449.85" stroke="#2a2a2a" stroke-width="1.4"/>
<ellipse cx="506.3" cy="449.55" rx="2.2" ry="1.8" fill="#777" stroke="#111" stroke-width="1.3"/>
<line x1="531.26" y1="451.2" x2="519.26" y2="458.4" stroke="#2a2a2a" stroke-width="1.4"/>
<line x1="535.76" y1="454.2" x2="524.76" y2="460.8" stroke="#2a2a2a" stroke-width="1.4"/>
<ellipse cx="524.26" cy="460.5" rx="2.2" ry="1.8" fill="#777" stroke="#111" stroke-width="1.3"/>
<line x1="549.22" y1="462.15" x2="537.22" y2="469.35" stroke="#2a2a2a" stroke-width="1.4"/>
<line x1="553.72" y1="465.15" x2="542.72" y2="471.75" stroke="#2a2a2a" stroke-width="1.4"/>
<ellipse cx="542.22" cy="471.45" rx="2.2" ry="1.8" fill="#777" stroke="#111" stroke-width="1.3"/>
<line x1="567.18" y1="473.1" x2="555.18" y2="480.3" stroke="#2a2a2a" stroke-width="1.4"/>
<line x1="571.68" y1="476.1" x2="560.68" y2="482.7" stroke="#2a2a2a" stroke-width="1.4"/>
<ellipse cx="560.18" cy="482.4" rx="2.2" ry="1.8" fill="#777" stroke="#111" stroke-width="1.3"/>
<polygon points="218.9,278.1 573.2,489.62 573.2,502.42 218.9,290.9" fill="#fff" stroke="none" stroke-width="0" stroke-linejoin="round"/>
<line x1="218.9" y1="278.1" x2="573.2" y2="489.62" stroke="#2a2a2a" stroke-width="1.4"/>
<line x1="218.9" y1="281.8" x2="573.2" y2="493.32" stroke="#2a2a2a" stroke-width="1.4"/>
<line x1="218.9" y1="290.9" x2="573.2" y2="502.42" stroke="#2a2a2a" stroke-width="1.4"/>
<line x1="218.9" y1="278.1" x2="218.9" y2="290.9" stroke="#2a2a2a" stroke-width="1.4"/>
<polygon points="224.3,229.8 395.5,332 395.5,370.4 224.3,268.2" fill="url(#perf)" stroke="#2a2a2a" stroke-width="1.4" stroke-linejoin="round"/>
<line x1="224.3" y1="232.7" x2="395.5" y2="334.9" stroke="#2a2a2a" stroke-width="1.4"/>
<line x1="224.3" y1="265.2" x2="395.5" y2="367.4" stroke="#2a2a2a" stroke-width="1.4"/>
<polygon points="224.3,229.8 395.5,332 395.5,334.9 224.3,232.7" fill="#fff" stroke="#2a2a2a" stroke-width="1.4" stroke-linejoin="round"/>
<polygon points="224.3,265.2 395.5,367.4 395.5,370.4 224.3,268.2" fill="#fff" stroke="#2a2a2a" stroke-width="1.4" stroke-linejoin="round"/>
<polygon points="401.3,335.46 500.4,394.63 500.4,433.03 401.3,373.86" fill="url(#perf)" stroke="#2a2a2a" stroke-width="1.4" stroke-linejoin="round"/>
<line x1="401.3" y1="338.36" x2="500.4" y2="397.53" stroke="#2a2a2a" stroke-width="1.4"/>
<line x1="401.3" y1="370.86" x2="500.4" y2="430.03" stroke="#2a2a2a" stroke-width="1.4"/>
<polygon points="401.3,335.46 500.4,394.63 500.4,397.53 401.3,338.36" fill="#fff" stroke="#2a2a2a" stroke-width="1.4" stroke-linejoin="round"/>
<polygon points="401.3,370.86 500.4,430.03 500.4,433.03 401.3,373.86" fill="#fff" stroke="#2a2a2a" stroke-width="1.4" stroke-linejoin="round"/>
<polygon points="395.5,317.13 401.3,320.59 401.3,390.3 395.5,387" fill="#fff" stroke="#2a2a2a" stroke-width="1.4" stroke-linejoin="round"/>
<path d="M221.25,208.1 L484.8,365.44 Q505.7,376.42 505.7,394.42 L505.7,451.9 L500.1,448.56 L500.1,397.42 Q500.1,380.47 482.8,370.65 L221.25,214.5 Z" fill="#fff" stroke="#2a2a2a" stroke-width="1.4"/>
<polygon points="505.5,630.5 589,675 766,567.5 682.5,523" fill="#fff" stroke="none" stroke-width="0" stroke-linejoin="round"/>
<line x1="505.5" y1="630.5" x2="589" y2="675" stroke="#2a2a2a" stroke-width="1.4"/>
<line x1="589" y1="675" x2="766" y2="567.5" stroke="#2a2a2a" stroke-width="1.4"/>
<line x1="715.2" y1="523" x2="763.8" y2="552.4" stroke="#2a2a2a" stroke-width="1.4"/>
<line x1="505.5" y1="630.5" x2="575.5" y2="587.8" stroke="#2a2a2a" stroke-width="1.4"/>
<line x1="507.5" y1="634.5" x2="575.5" y2="593.02" stroke="#2a2a2a" stroke-width="1.4"/>
<polygon points="505.5,634.6 546.5,722.5 572.9,737.2 572.9,728.4 549.4,716.7 520,640" fill="#fff" stroke="none" stroke-width="0" stroke-linejoin="round"/>
<polyline points="505.5,634.6 546.5,722.5 572.9,737.2" fill="none" stroke="#2a2a2a" stroke-width="1.4" stroke-linejoin="round"/>
<polyline points="512.5,637 548,719.5 572.9,732.6" fill="none" stroke="#2a2a2a" stroke-width="1.4" stroke-linejoin="round"/>
<polyline points="520,640 549.4,716.7 572.9,728.4" fill="none" stroke="#2a2a2a" stroke-width="1.4" stroke-linejoin="round"/>
<polygon points="505.5,630.5 589,675 589,682.6 505.5,638.1" fill="#fff" stroke="#2a2a2a" stroke-width="1.4" stroke-linejoin="round"/>
<line x1="505.5" y1="633.1" x2="589" y2="677.6" stroke="#2a2a2a" stroke-width="1.4"/>
<polygon points="589,675 766,567.5 766,577.1 589,684.6" fill="#fff" stroke="#2a2a2a" stroke-width="1.4" stroke-linejoin="round"/>
<line x1="589" y1="677.8" x2="766" y2="570.3" stroke="#555" stroke-width="1.12"/>
<polygon points="728.5,597.7 736.3,613.3 763.5,627.5 763.5,619.5 740.2,609.4 734.4,595.7" fill="#fff" stroke="none" stroke-width="0" stroke-linejoin="round"/>
<polyline points="728.5,597.7 736.3,613.3 763.5,627.5" fill="none" stroke="#2a2a2a" stroke-width="1.4" stroke-linejoin="round"/>
<polyline points="734.4,595.7 740.2,609.4 763.5,619.5" fill="none" stroke="#2a2a2a" stroke-width="1.4" stroke-linejoin="round"/>
<line x1="728.5" y1="597.7" x2="734.4" y2="595.7" stroke="#2a2a2a" stroke-width="1.4"/>
<polygon points="569.8,679 573.2,677 573.2,745 569.8,743" fill="#fff" stroke="#2a2a2a" stroke-width="1.4" stroke-linejoin="round"/>
<polygon points="763,566 767,563.5 767,617 763,619" fill="#fff" stroke="#2a2a2a" stroke-width="1.4" stroke-linejoin="round"/>
<polygon points="588.5,439.3 766,335.4 766,403 588.5,507" fill="#fff" stroke="none" stroke-width="0" stroke-linejoin="round"/>
<polygon points="588.5,418 766,314.5 766,322.3 588.5,426.6" fill="#fff" stroke="none" stroke-width="0" stroke-linejoin="round"/>
<line x1="588.5" y1="418" x2="766" y2="314.5" stroke="#2a2a2a" stroke-width="1.4"/>
<line x1="588.5" y1="426.6" x2="766" y2="322.3" stroke="#2a2a2a" stroke-width="1.4"/>
<line x1="588.5" y1="419.6" x2="766" y2="316.1" stroke="#888" stroke-width="0.98"/>
<polygon points="588.5,439.3 766,335.4 766,341.7 588.5,446" fill="#fff" stroke="none" stroke-width="0" stroke-linejoin="round"/>
<line x1="588.5" y1="439.3" x2="766" y2="335.4" stroke="#2a2a2a" stroke-width="1.4"/>
<line x1="588.5" y1="441.8" x2="766" y2="337.9" stroke="#2a2a2a" stroke-width="1.4"/>
<polygon points="588.5,446 766,341.7 766,369.6 588.5,474" fill="url(#mesh)" stroke="none" stroke-width="0" stroke-linejoin="round"/>
<line x1="588.5" y1="445.6" x2="766" y2="341.3" stroke="#fff" stroke-dasharray="1.6 1.6" stroke-width="1.2"/>
<line x1="588.5" y1="474.4" x2="766" y2="370" stroke="#fff" stroke-dasharray="1.6 1.6" stroke-width="1.2"/>
<line x1="588.5" y1="475.8" x2="766" y2="371.9" stroke="#2a2a2a" stroke-width="1.4"/>
<line x1="588.5" y1="479.6" x2="766" y2="375.6" stroke="#2a2a2a" stroke-width="1.4"/>
<line x1="588.5" y1="484.5" x2="766" y2="380.4" stroke="#2a2a2a" stroke-width="1.4"/>
<line x1="588.5" y1="492" x2="766" y2="388.1" stroke="#2a2a2a" stroke-width="1.4"/>
<line x1="588.5" y1="495.2" x2="766" y2="391.3" stroke="#2a2a2a" stroke-width="1.4"/>
<line x1="588.5" y1="501.6" x2="766" y2="397.5" stroke="#2a2a2a" stroke-width="1.4"/>
<line x1="588.5" y1="506" x2="766" y2="401.9" stroke="#2a2a2a" stroke-width="1.4"/>
<g fill="#fff" stroke="#1a1a1a" stroke-width="1.7"><ellipse cx="755.3" cy="381.7" rx="1.8" ry="3.1" transform="rotate(22 755.3 381.7)"/><ellipse cx="759.5" cy="384.1" rx="1.8" ry="2.9" transform="rotate(22 759.5 384.1)"/></g>
<line x1="752.9" y1="385.1" x2="757.1" y2="389.1" stroke="#222" stroke-width="2.2"/>
<line x1="757.3" y1="386.9" x2="760.1" y2="389.7" stroke="#222" stroke-width="1.8"/>
<path d="M588.5,518.6 L762.5,412.98 Q766.5,410.55 766.5,414.95 L766.5,486.25 Q766.5,488.25 763.5,490.07 L588.5,596.3 Z" fill="#fff" stroke="#2a2a2a" stroke-width="1.4"/>
<polygon points="588.5,522.2 763.6,415.91 763.6,485.91 588.5,592.2" fill="url(#mesh)" stroke="#000" stroke-width="1.12" stroke-linejoin="round"/>
<line x1="588.5" y1="520.4" x2="764.5" y2="413.57" stroke="#666" stroke-width="0.98"/>
<line x1="588.5" y1="594.3" x2="764.5" y2="487.47" stroke="#666" stroke-width="0.98"/>
<polygon points="764.4,311.4 771.4,315.3 778.8,311.2 778.8,732 771.6,735.6 763.3,731.3" fill="#fff" stroke="none" stroke-width="0" stroke-linejoin="round"/>
<polygon points="768.8,316 771.3,316 771.3,566 768.8,566" fill="#c8c8c8" stroke="none" stroke-width="0" stroke-linejoin="round"/>
<line x1="764" y1="312" x2="764" y2="731.3" stroke="#2a2a2a" stroke-width="1.4"/>
<line x1="768.8" y1="314" x2="768.8" y2="566" stroke="#2a2a2a" stroke-width="1.4"/>
<line x1="771.5" y1="315.3" x2="771.5" y2="735.6" stroke="#2a2a2a" stroke-width="1.4"/>
<line x1="778.8" y1="311.2" x2="778.8" y2="732" stroke="#2a2a2a" stroke-width="1.4"/>
<polyline points="764,731.3 771.5,735.6 778.8,732" fill="none" stroke="#2a2a2a" stroke-width="1.4" stroke-linejoin="round"/>
<polygon points="764.4,311.4 771.4,315.3 778.8,310.9 771.4,306.7" fill="#fff" stroke="#2a2a2a" stroke-width="1.54" stroke-linejoin="round"/>
<line x1="760" y1="571.1" x2="769.5" y2="565.4" stroke="#2a2a2a" stroke-width="1.4"/>
<line x1="760" y1="580.7" x2="766" y2="577.1" stroke="#2a2a2a" stroke-width="1.4"/>
<polygon points="766,566.5 769.8,564.3 769.8,580.5 766,582.5" fill="#333" stroke="#2a2a2a" stroke-width="1.4" stroke-linejoin="round"/>
<line x1="224.2" y1="205" x2="224.2" y2="283" stroke="#2a2a2a" stroke-width="1.4"/>
<circle cx="223.2" cy="226.5" r="1.5" fill="#222"/><circle cx="223.2" cy="277.0" r="1.7" fill="#222"/>
<polygon points="573.2,428.3 580.6,431.7 588.5,427.2 588.5,846.4 580.9,851.6 573.1,846.4" fill="#fff" stroke="none" stroke-width="0" stroke-linejoin="round"/>
<line x1="573.2" y1="428.3" x2="573.2" y2="846.4" stroke="#2a2a2a" stroke-width="1.4"/>
<line x1="580.7" y1="431.7" x2="580.7" y2="851.6" stroke="#2a2a2a" stroke-width="1.4"/>
<line x1="588.5" y1="427.2" x2="588.5" y2="846.4" stroke="#2a2a2a" stroke-width="1.4"/>
<polyline points="573.1,846.4 580.9,851.6 588.6,846.4" fill="none" stroke="#2a2a2a" stroke-width="1.4" stroke-linejoin="round"/>
<polygon points="573.2,428.3 580.7,431.7 588.5,427.2 581.1,422.7" fill="#fff" stroke="#2a2a2a" stroke-width="1.54" stroke-linejoin="round"/>
<circle cx="585" cy="507.5" r="1.4" fill="#222"/><circle cx="576.8" cy="684.5" r="1.3" fill="#222"/>
<polygon points="563.3,497.5 572.3,498.5 572.3,516 574.1,522 492.54,894 486.74,896 481.74,891 563.3,516" fill="#fff" stroke="none" stroke-width="0" stroke-linejoin="round"/>
<line x1="563.3" y1="497.5" x2="563.3" y2="516" stroke="#2a2a2a" stroke-width="1.4"/>
<line x1="566.9" y1="500.1" x2="566.9" y2="517.5" stroke="#2a2a2a" stroke-width="1.4"/>
<line x1="572.3" y1="498" x2="572.3" y2="516" stroke="#2a2a2a" stroke-width="1.4"/>
<line x1="563.3" y1="516" x2="481.74" y2="891" stroke="#2a2a2a" stroke-width="1.4"/>
<line x1="566.9" y1="517.5" x2="566.56" y2="524" stroke="#2a2a2a" stroke-width="1.4"/>
<line x1="566.56" y1="524" x2="486.74" y2="896" stroke="#2a2a2a" stroke-width="1.4"/>
<line x1="572.3" y1="516" x2="572.79" y2="522" stroke="#2a2a2a" stroke-width="1.4"/>
<line x1="572.79" y1="522" x2="492.54" y2="894" stroke="#2a2a2a" stroke-width="1.4"/>
<polyline points="481.74,891 486.74,896 492.54,894" fill="none" stroke="#2a2a2a" stroke-width="1.4" stroke-linejoin="round"/>
<polygon points="563.3,497.5 568.4,500.3 572.3,497.8 567.2,495.1" fill="#fff" stroke="#2a2a2a" stroke-width="1.4" stroke-linejoin="round"/>
<circle cx="565.1" cy="505" r="1.4" fill="#222"/>
<polygon points="500.5,460 509.5,461 509.5,478.5 511.3,484.5 429.54,857.4 423.74,859.4 418.74,854.4 500.5,478.5" fill="#fff" stroke="none" stroke-width="0" stroke-linejoin="round"/>
<line x1="500.5" y1="460" x2="500.5" y2="478.5" stroke="#2a2a2a" stroke-width="1.4"/>
<line x1="504.1" y1="462.6" x2="504.1" y2="480" stroke="#2a2a2a" stroke-width="1.4"/>
<line x1="509.5" y1="460.5" x2="509.5" y2="478.5" stroke="#2a2a2a" stroke-width="1.4"/>
<line x1="500.5" y1="478.5" x2="418.74" y2="854.4" stroke="#2a2a2a" stroke-width="1.4"/>
<line x1="504.1" y1="480" x2="503.76" y2="486.5" stroke="#2a2a2a" stroke-width="1.4"/>
<line x1="503.76" y1="486.5" x2="423.74" y2="859.4" stroke="#2a2a2a" stroke-width="1.4"/>
<line x1="509.5" y1="478.5" x2="510" y2="484.5" stroke="#2a2a2a" stroke-width="1.4"/>
<line x1="510" y1="484.5" x2="429.54" y2="857.4" stroke="#2a2a2a" stroke-width="1.4"/>
<polyline points="418.74,854.4 423.74,859.4 429.54,857.4" fill="none" stroke="#2a2a2a" stroke-width="1.4" stroke-linejoin="round"/>
<polygon points="500.5,460 505.6,462.8 509.5,460.3 504.4,457.6" fill="#fff" stroke="#2a2a2a" stroke-width="1.4" stroke-linejoin="round"/>
<circle cx="502.3" cy="467.5" r="1.4" fill="#222"/>
<polygon points="494.3,527.28 553.7,562.3 551.9,571.6 492.5,536.58" fill="#fff" stroke="none" stroke-width="0" stroke-linejoin="round"/>
<line x1="494.3" y1="527.28" x2="553.7" y2="562.3" stroke="#2a2a2a" stroke-width="1.4"/>
<line x1="493.7" y1="530.28" x2="553.1" y2="565.3" stroke="#2a2a2a" stroke-width="1.4"/>
<line x1="492.5" y1="536.58" x2="551.9" y2="571.6" stroke="#2a2a2a" stroke-width="1.4"/>
<polygon points="477.8,602.08 537.2,637.1 535.4,646.4 476,611.38" fill="#fff" stroke="none" stroke-width="0" stroke-linejoin="round"/>
<line x1="477.8" y1="602.08" x2="537.2" y2="637.1" stroke="#2a2a2a" stroke-width="1.4"/>
<line x1="477.2" y1="605.08" x2="536.6" y2="640.1" stroke="#2a2a2a" stroke-width="1.4"/>
<line x1="476" y1="611.38" x2="535.4" y2="646.4" stroke="#2a2a2a" stroke-width="1.4"/>
<polygon points="461.3,676.88 520.7,711.9 518.9,721.2 459.5,686.18" fill="#fff" stroke="none" stroke-width="0" stroke-linejoin="round"/>
<line x1="461.3" y1="676.88" x2="520.7" y2="711.9" stroke="#2a2a2a" stroke-width="1.4"/>
<line x1="460.7" y1="679.88" x2="520.1" y2="714.9" stroke="#2a2a2a" stroke-width="1.4"/>
<line x1="459.5" y1="686.18" x2="518.9" y2="721.2" stroke="#2a2a2a" stroke-width="1.4"/>
<polygon points="444.8,751.68 504.2,786.7 502.4,796 443,760.98" fill="#fff" stroke="none" stroke-width="0" stroke-linejoin="round"/>
<line x1="444.8" y1="751.68" x2="504.2" y2="786.7" stroke="#2a2a2a" stroke-width="1.4"/>
<line x1="444.2" y1="754.68" x2="503.6" y2="789.7" stroke="#2a2a2a" stroke-width="1.4"/>
<line x1="443" y1="760.98" x2="502.4" y2="796" stroke="#2a2a2a" stroke-width="1.4"/>
<polygon points="428.3,826.48 463.76,847.39 461.96,856.69 426.5,835.78" fill="#fff" stroke="none" stroke-width="0" stroke-linejoin="round"/>
<line x1="428.3" y1="826.48" x2="463.76" y2="847.39" stroke="#2a2a2a" stroke-width="1.4"/>
<line x1="427.7" y1="829.48" x2="463.16" y2="850.39" stroke="#2a2a2a" stroke-width="1.4"/>
<line x1="426.5" y1="835.78" x2="461.96" y2="856.69" stroke="#2a2a2a" stroke-width="1.4"/>
<rect x="524" y="221.3" width="54" height="23.5" fill="#fff"/>
<rect x="172.6" y="323.3" width="53.6" height="23.5" fill="#fff"/>
<rect x="250.4" y="348.3" width="44.4" height="23.5" fill="#fff"/>
<rect x="172.6" y="422.5" width="53.6" height="23.5" fill="#fff"/>
<rect x="304.6" y="422.6" width="54.4" height="23.5" fill="#fff"/>
<rect x="170.8" y="508.8" width="53.6" height="23.5" fill="#fff"/>
<rect x="304.7" y="528.5" width="54.6" height="23.5" fill="#fff"/>
<rect x="170.8" y="593.8" width="53.6" height="23.5" fill="#fff"/>
<rect x="305.7" y="616.4" width="54.4" height="23.5" fill="#fff"/>
<rect x="652.5" y="569.5" width="55.4" height="23.5" fill="#fff"/>
<rect x="602.6" y="628" width="54.6" height="23.5" fill="#fff"/>
<rect x="523.9" y="431.2" width="49.5" height="20.5" fill="#fff"/>
<rect x="520.1" y="498.2" width="41.1" height="20.5" fill="#fff"/>
<rect x="504" y="572" width="50.5" height="20.5" fill="#fff"/>
<rect x="487.3" y="650.1" width="50.5" height="20.5" fill="#fff"/>
<rect x="471.7" y="723.2" width="50.7" height="20.5" fill="#fff"/>
<rect x="455.6" y="797.3" width="50.7" height="20.5" fill="#fff"/>
<rect x="445.3" y="850" width="41.9" height="20.5" fill="#fff"/>
<rect x="601.5" y="449.5" width="51" height="22.3" fill="#fff"/>
<rect x="602.2" y="535.5" width="51.2" height="21" fill="#fff"/>
<rect x="523" y="221" width="55" height="23.5" fill="#fff"/>
<line x1="260.2" y1="145.2" x2="363.39" y2="216.29" stroke="#000" stroke-width="1.9"/>
<polygon points="370.8,221.4 359.79,219.76 365.35,211.69" fill="#000" stroke="none" stroke-width="0" stroke-linejoin="round"/>
<line x1="580.8" y1="203.6" x2="580.8" y2="265" stroke="#fff" stroke-width="7"/>
<line x1="580.8" y1="209.6" x2="580.8" y2="259" stroke="#000" stroke-width="1.9"/>
<polygon points="580.8,268 575.9,258 585.7,258" fill="#000" stroke="none" stroke-width="0" stroke-linejoin="round"/>
<polygon points="580.8,200.6 585.7,210.6 575.9,210.6" fill="#000" stroke="none" stroke-width="0" stroke-linejoin="round"/>
<line x1="230.7" y1="309" x2="230.7" y2="379" stroke="#000" stroke-width="1.9"/>
<polygon points="230.7,388 225.8,378 235.6,378" fill="#000" stroke="none" stroke-width="0" stroke-linejoin="round"/>
<polygon points="230.7,300 235.6,310 225.8,310" fill="#000" stroke="none" stroke-width="0" stroke-linejoin="round"/>
<line x1="249.37" y1="370.46" x2="265.63" y2="380.54" stroke="#000" stroke-width="1.9"/>
<polygon points="272,384.5 262.46,383.76 267.1,376.28" fill="#000" stroke="none" stroke-width="0" stroke-linejoin="round"/>
<polygon points="243,366.5 252.54,367.24 247.9,374.72" fill="#000" stroke="none" stroke-width="0" stroke-linejoin="round"/>
<line x1="230.7" y1="409" x2="230.7" y2="467" stroke="#000" stroke-width="1.9"/>
<polygon points="230.7,476 225.8,466 235.6,466" fill="#000" stroke="none" stroke-width="0" stroke-linejoin="round"/>
<polygon points="230.7,400 235.6,410 225.8,410" fill="#000" stroke="none" stroke-width="0" stroke-linejoin="round"/>
<line x1="301.7" y1="381" x2="301.7" y2="488" stroke="#000" stroke-width="1.9"/>
<polygon points="301.7,497 296.8,487 306.6,487" fill="#000" stroke="none" stroke-width="0" stroke-linejoin="round"/>
<polygon points="301.7,372 306.6,382 296.8,382" fill="#000" stroke="none" stroke-width="0" stroke-linejoin="round"/>
<line x1="230.7" y1="495" x2="230.7" y2="556.7" stroke="#000" stroke-width="1.9"/>
<polygon points="230.7,565.7 225.8,555.7 235.6,555.7" fill="#000" stroke="none" stroke-width="0" stroke-linejoin="round"/>
<polygon points="230.7,486 235.6,496 225.8,496" fill="#000" stroke="none" stroke-width="0" stroke-linejoin="round"/>
<line x1="301.7" y1="512.9" x2="301.7" y2="576.6" stroke="#000" stroke-width="1.9"/>
<polygon points="301.7,585.6 296.8,575.6 306.6,575.6" fill="#000" stroke="none" stroke-width="0" stroke-linejoin="round"/>
<polygon points="301.7,503.9 306.6,513.9 296.8,513.9" fill="#000" stroke="none" stroke-width="0" stroke-linejoin="round"/>
<line x1="230.7" y1="588.6" x2="230.7" y2="625.4" stroke="#000" stroke-width="1.9"/>
<polygon points="230.7,634.4 225.8,624.4 235.6,624.4" fill="#000" stroke="none" stroke-width="0" stroke-linejoin="round"/>
<polygon points="230.7,579.6 235.6,589.6 225.8,589.6" fill="#000" stroke="none" stroke-width="0" stroke-linejoin="round"/>
<line x1="301.7" y1="602.5" x2="301.7" y2="656.9" stroke="#000" stroke-width="1.9"/>
<polygon points="301.7,665.9 296.8,655.9 306.6,655.9" fill="#000" stroke="none" stroke-width="0" stroke-linejoin="round"/>
<polygon points="301.7,593.5 306.6,603.5 296.8,603.5" fill="#000" stroke="none" stroke-width="0" stroke-linejoin="round"/>
<line x1="225.4" y1="722.4" x2="274.5" y2="722.4" stroke="#000" stroke-width="1.9"/>
<polygon points="283.5,722.4 273.5,727.3 273.5,717.5" fill="#000" stroke="none" stroke-width="0" stroke-linejoin="round"/>
<polygon points="216.4,722.4 226.4,717.5 226.4,727.3" fill="#000" stroke="none" stroke-width="0" stroke-linejoin="round"/>
<line x1="514.74" y1="444.02" x2="562.96" y2="471.18" stroke="#000" stroke-width="1.9"/>
<polygon points="570.8,475.6 559.68,474.96 564.49,466.42" fill="#000" stroke="none" stroke-width="0" stroke-linejoin="round"/>
<polygon points="506.9,439.6 518.02,440.24 513.21,448.78" fill="#000" stroke="none" stroke-width="0" stroke-linejoin="round"/>
<line x1="597.8" y1="426.4" x2="597.8" y2="498.1" stroke="#fff" stroke-width="7"/>
<line x1="597.8" y1="432.4" x2="597.8" y2="492.1" stroke="#000" stroke-width="1.9"/>
<polygon points="597.8,501.1 592.9,491.1 602.7,491.1" fill="#000" stroke="none" stroke-width="0" stroke-linejoin="round"/>
<polygon points="597.8,423.4 602.7,433.4 592.9,433.4" fill="#000" stroke="none" stroke-width="0" stroke-linejoin="round"/>
<line x1="515.1" y1="481.7" x2="515.1" y2="532.5" stroke="#000" stroke-width="1.9"/>
<polygon points="515.1,541.5 510.2,531.5 520,531.5" fill="#000" stroke="none" stroke-width="0" stroke-linejoin="round"/>
<polygon points="515.1,472.7 520,482.7 510.2,482.7" fill="#000" stroke="none" stroke-width="0" stroke-linejoin="round"/>
<line x1="599.2" y1="514.5" x2="599.2" y2="589.2" stroke="#fff" stroke-width="7"/>
<line x1="599.2" y1="520.5" x2="599.2" y2="583.2" stroke="#000" stroke-width="1.9"/>
<polygon points="599.2,592.2 594.3,582.2 604.1,582.2" fill="#000" stroke="none" stroke-width="0" stroke-linejoin="round"/>
<polygon points="599.2,511.5 604.1,521.5 594.3,521.5" fill="#000" stroke="none" stroke-width="0" stroke-linejoin="round"/>
<line x1="501.1" y1="553.4" x2="501.1" y2="605.5" stroke="#000" stroke-width="1.9"/>
<polygon points="501.1,614.5 496.2,604.5 506,604.5" fill="#000" stroke="none" stroke-width="0" stroke-linejoin="round"/>
<polygon points="501.1,544.4 506,554.4 496.2,554.4" fill="#000" stroke="none" stroke-width="0" stroke-linejoin="round"/>
<line x1="662" y1="592.8" x2="560.66" y2="655.28" stroke="#000" stroke-width="1.9"/>
<polygon points="553,660 558.94,650.58 564.08,658.92" fill="#000" stroke="none" stroke-width="0" stroke-linejoin="round"/>
<line x1="700.6" y1="569" x2="737.54" y2="546.22" stroke="#000" stroke-width="1.9"/>
<polygon points="745.2,541.5 739.26,550.92 734.12,542.58" fill="#000" stroke="none" stroke-width="0" stroke-linejoin="round"/>
<line x1="599.6" y1="605.9" x2="599.6" y2="657.2" stroke="#000" stroke-width="1.9"/>
<polygon points="599.6,666.2 594.7,656.2 604.5,656.2" fill="#000" stroke="none" stroke-width="0" stroke-linejoin="round"/>
<polygon points="599.6,596.9 604.5,606.9 594.7,606.9" fill="#000" stroke="none" stroke-width="0" stroke-linejoin="round"/>
<line x1="484.4" y1="628.7" x2="484.4" y2="682.2" stroke="#000" stroke-width="1.9"/>
<polygon points="484.4,691.2 479.5,681.2 489.3,681.2" fill="#000" stroke="none" stroke-width="0" stroke-linejoin="round"/>
<polygon points="484.4,619.7 489.3,629.7 479.5,629.7" fill="#000" stroke="none" stroke-width="0" stroke-linejoin="round"/>
<line x1="468.8" y1="702.8" x2="468.8" y2="756.6" stroke="#000" stroke-width="1.9"/>
<polygon points="468.8,765.6 463.9,755.6 473.7,755.6" fill="#000" stroke="none" stroke-width="0" stroke-linejoin="round"/>
<polygon points="468.8,693.8 473.7,703.8 463.9,703.8" fill="#000" stroke="none" stroke-width="0" stroke-linejoin="round"/>
<line x1="600.3" y1="687.6" x2="600.3" y2="836" stroke="#000" stroke-width="1.9"/>
<polygon points="600.3,845 595.4,835 605.2,835" fill="#000" stroke="none" stroke-width="0" stroke-linejoin="round"/>
<polygon points="600.3,678.6 605.2,688.6 595.4,688.6" fill="#000" stroke="none" stroke-width="0" stroke-linejoin="round"/>
<line x1="452.8" y1="777.4" x2="452.8" y2="831.5" stroke="#000" stroke-width="1.9"/>
<polygon points="452.8,840.5 447.9,830.5 457.7,830.5" fill="#000" stroke="none" stroke-width="0" stroke-linejoin="round"/>
<polygon points="452.8,768.4 457.7,778.4 447.9,778.4" fill="#000" stroke="none" stroke-width="0" stroke-linejoin="round"/>
<line x1="435.7" y1="852.3" x2="435.7" y2="862.9" stroke="#000" stroke-width="1.9"/>
<polygon points="435.7,870.4 431.3,861.9 440.1,861.9" fill="#000" stroke="none" stroke-width="0" stroke-linejoin="round"/>
<polygon points="435.7,844.8 440.1,853.3 431.3,853.3" fill="#000" stroke="none" stroke-width="0" stroke-linejoin="round"/>
<line x1="500.7" y1="894.7" x2="561.6" y2="894.7" stroke="#000" stroke-width="1.9"/>
<polygon points="570.6,894.7 560.6,899.6 560.6,889.8" fill="#000" stroke="none" stroke-width="0" stroke-linejoin="round"/>
<polygon points="491.7,894.7 501.7,889.8 501.7,899.6" fill="#000" stroke="none" stroke-width="0" stroke-linejoin="round"/>
<line x1="792.7" y1="317.5" x2="792.7" y2="722.2" stroke="#000" stroke-width="1.9"/>
<polygon points="792.7,731.2 787.8,721.2 797.6,721.2" fill="#000" stroke="none" stroke-width="0" stroke-linejoin="round"/>
<polygon points="792.7,308.5 797.6,318.5 787.8,318.5" fill="#000" stroke="none" stroke-width="0" stroke-linejoin="round"/>
<line x1="227" y1="944.3" x2="562.6" y2="944.3" stroke="#000" stroke-width="1.9"/>
<polygon points="571.6,944.3 561.6,949.2 561.6,939.4" fill="#000" stroke="none" stroke-width="0" stroke-linejoin="round"/>
<polygon points="218,944.3 228,939.4 228,949.2" fill="#000" stroke="none" stroke-width="0" stroke-linejoin="round"/>
<line x1="599.3" y1="944.6" x2="762.6" y2="944.6" stroke="#000" stroke-width="1.9"/>
<polygon points="771.6,944.6 761.6,949.5 761.6,939.7" fill="#000" stroke="none" stroke-width="0" stroke-linejoin="round"/>
<polygon points="590.3,944.6 600.3,939.7 600.3,949.5" fill="#000" stroke="none" stroke-width="0" stroke-linejoin="round"/>
<line x1="218.2" y1="989.5" x2="570.8" y2="989.5" stroke="#000" stroke-width="1.9"/>
<polygon points="579.8,989.5 569.8,994.4 569.8,984.6" fill="#000" stroke="none" stroke-width="0" stroke-linejoin="round"/>
<polygon points="209.2,989.5 219.2,984.6 219.2,994.4" fill="#000" stroke="none" stroke-width="0" stroke-linejoin="round"/>
<line x1="594.3" y1="989" x2="770.9" y2="989" stroke="#000" stroke-width="1.9"/>
<polygon points="779.9,989 769.9,993.9 769.9,984.1" fill="#000" stroke="none" stroke-width="0" stroke-linejoin="round"/>
<polygon points="585.3,989 595.3,984.1 595.3,993.9" fill="#000" stroke="none" stroke-width="0" stroke-linejoin="round"/>
<line x1="208.3" y1="627" x2="208.3" y2="1001" stroke="#000" stroke-width="1.8" stroke-dasharray="9 6.4"/>
<line x1="217.3" y1="631" x2="217.3" y2="954.5" stroke="#000" stroke-width="1.8" stroke-dasharray="9 6.4"/>
<line x1="283.5" y1="671.5" x2="283.5" y2="732" stroke="#000" stroke-width="1.8" stroke-dasharray="9 6.4"/>
<line x1="573" y1="847" x2="573" y2="950" stroke="#000" stroke-width="1.8" stroke-dasharray="9 6.4"/>
<line x1="581.2" y1="852.5" x2="581.2" y2="1002" stroke="#000" stroke-width="1.8" stroke-dasharray="9 6.4"/>
<line x1="589" y1="847" x2="589" y2="950" stroke="#000" stroke-width="1.8" stroke-dasharray="9 6.4"/>
<line x1="771.6" y1="736" x2="771.6" y2="950" stroke="#000" stroke-width="1.8" stroke-dasharray="9 6.4"/>
<line x1="780" y1="726" x2="780" y2="1002" stroke="#000" stroke-width="1.8" stroke-dasharray="9 6.4"/>
<text x="496.4" y="35.3" font-size="19.3" text-anchor="middle">Inner Size: 75.25&quot;W X 39.00&quot;D</text>
<text x="226.3" y="140.9" font-size="17.9" text-anchor="start" textLength="51.41" lengthAdjust="spacingAndGlyphs">39.00&quot;</text>
<text x="525.3" y="239.3" font-size="17.9" text-anchor="start" textLength="51.41" lengthAdjust="spacingAndGlyphs">13.25&quot;</text>
<text x="173.7" y="341.3" font-size="17.9" text-anchor="start" textLength="51.41" lengthAdjust="spacingAndGlyphs">15.50&quot;</text>
<text x="251.7" y="366.3" font-size="17.9" text-anchor="start" textLength="41.8" lengthAdjust="spacingAndGlyphs">6.50&quot;</text>
<text x="173.7" y="440.5" font-size="17.9" text-anchor="start" textLength="51.41" lengthAdjust="spacingAndGlyphs">13.75&quot;</text>
<text x="306.1" y="440.6" font-size="17.9" text-anchor="start" textLength="51.41" lengthAdjust="spacingAndGlyphs">15.00&quot;</text>
<text x="171.9" y="526.8" font-size="17.9" text-anchor="start" textLength="51.41" lengthAdjust="spacingAndGlyphs">13.75&quot;</text>
<text x="306.3" y="546.5" font-size="17.9" text-anchor="start" textLength="51.41" lengthAdjust="spacingAndGlyphs">15.00&quot;</text>
<text x="171.9" y="611.8" font-size="17.9" text-anchor="start" textLength="51.41" lengthAdjust="spacingAndGlyphs">10.25&quot;</text>
<text x="307.2" y="634.4" font-size="17.9" text-anchor="start" textLength="51.41" lengthAdjust="spacingAndGlyphs">11.25&quot;</text>
<text x="226.6" y="713" font-size="17.9" text-anchor="start" textLength="51.41" lengthAdjust="spacingAndGlyphs">13.75&quot;</text>
<text x="654.5" y="587.5" font-size="17.9" text-anchor="start" textLength="51.41" lengthAdjust="spacingAndGlyphs">40.50&quot;</text>
<text x="604.2" y="646" font-size="17.9" text-anchor="start" textLength="51.41" lengthAdjust="spacingAndGlyphs">12.50&quot;</text>
<text x="606.4" y="767.9" font-size="17.9" text-anchor="start" textLength="51.41" lengthAdjust="spacingAndGlyphs">29.25&quot;</text>
<text x="507.9" y="887.9" font-size="17.9" text-anchor="start" textLength="51.41" lengthAdjust="spacingAndGlyphs">17.75&quot;</text>
<text x="800.5" y="546.5" font-size="17.9" text-anchor="start" textLength="51.41" lengthAdjust="spacingAndGlyphs">72.00&quot;</text>
<text x="377.9" y="937.9" font-size="17.9" text-anchor="start" textLength="51.41" lengthAdjust="spacingAndGlyphs">74.50&quot;</text>
<text x="653.5" y="939.3" font-size="17.9" text-anchor="start" textLength="51.41" lengthAdjust="spacingAndGlyphs">38.25&quot;</text>
<text x="376.6" y="984.1" font-size="17.9" text-anchor="start" textLength="51.41" lengthAdjust="spacingAndGlyphs">77.75&quot;</text>
<text x="653.1" y="983.1" font-size="17.9" text-anchor="start" textLength="51.41" lengthAdjust="spacingAndGlyphs">41.50&quot;</text>
<text x="525.13" y="446.7" font-size="15.3" text-anchor="start" textLength="45.53" lengthAdjust="spacingAndGlyphs">15.00&quot;</text>
<text x="603.18" y="465.8" font-size="15.3" text-anchor="start" textLength="45.53" lengthAdjust="spacingAndGlyphs">14.00&quot;</text>
<text x="521.39" y="513.7" font-size="15.3" text-anchor="start" textLength="37.03" lengthAdjust="spacingAndGlyphs">9.50&quot;</text>
<text x="604.63" y="551.8" font-size="15.3" text-anchor="start" textLength="45.53" lengthAdjust="spacingAndGlyphs">16.00&quot;</text>
<text x="505.73" y="587.5" font-size="15.3" text-anchor="start" textLength="45.53" lengthAdjust="spacingAndGlyphs">10.50&quot;</text>
<text x="489.03" y="665.6" font-size="15.3" text-anchor="start" textLength="45.53" lengthAdjust="spacingAndGlyphs">10.50&quot;</text>
<text x="473.53" y="738.7" font-size="15.3" text-anchor="start" textLength="45.53" lengthAdjust="spacingAndGlyphs">10.50&quot;</text>
<text x="457.43" y="812.8" font-size="15.3" text-anchor="start" textLength="45.53" lengthAdjust="spacingAndGlyphs">10.50&quot;</text>
<text x="446.99" y="865.5" font-size="15.3" text-anchor="start" textLength="37.03" lengthAdjust="spacingAndGlyphs">3.25&quot;</text>
</svg>
</body></html>
